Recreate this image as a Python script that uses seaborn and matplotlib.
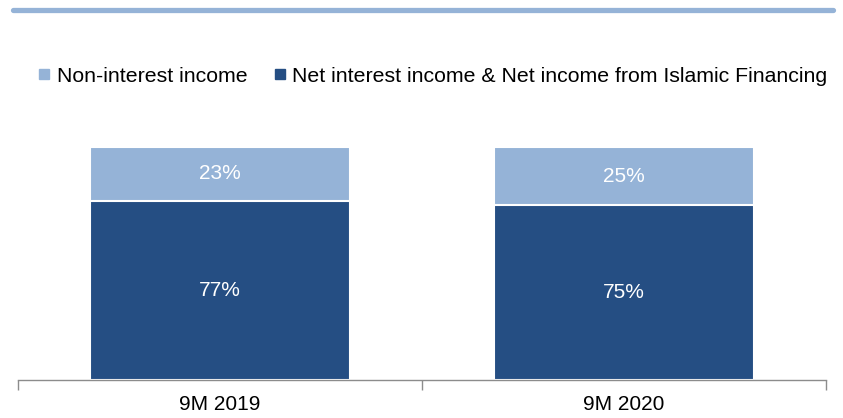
import matplotlib
matplotlib.use("Agg")
import matplotlib.pyplot as plt
from matplotlib.lines import Line2D
import seaborn as sns
import pandas as pd

periods = ["9M 2019", "9M 2020"]
non_interest = [23, 25]
net_interest = [77, 75]
series_names = ["Non-interest income",
                "Net interest income & Net income from Islamic Financing"]

LIGHT = "#95B3D7"
DARK = "#254E83"

sns.set_theme(style="white")
plt.rcParams["font.family"] = ["Liberation Sans", "DejaVu Sans"]
plt.rcParams["text.color"] = "black"

df = pd.DataFrame({"period": periods,
                   "non_interest": non_interest,
                   "net_interest": net_interest})
df["total"] = df["non_interest"] + df["net_interest"]

fig = plt.figure(figsize=(8.43, 4.18), dpi=100)
ax = fig.add_axes([18 / 843, 38 / 418, 808 / 843, 233 / 418])

# stacked bars: full height in the light colour, lower segment in dark on top
sns.barplot(data=df, x="period", y="total", color=LIGHT, width=0.644,
            saturation=1, edgecolor="white", linewidth=1.5, ax=ax)
sns.barplot(data=df, x="period", y="net_interest", color=DARK, width=0.644,
            saturation=1, edgecolor="white", linewidth=1.5, ax=ax)

top_bars = ax.containers[0]
low_bars = ax.containers[1]
for rect, v in zip(low_bars, net_interest):
    ax.text(rect.get_x() + rect.get_width() / 2, v / 2, f"{v}%",
            ha="center", va="center", color="white", fontsize=15)
for rect, lo, v in zip(top_bars, net_interest, non_interest):
    ax.text(rect.get_x() + rect.get_width() / 2, lo + v / 2, f"{v}%",
            ha="center", va="center", color="white", fontsize=15)

ax.set_xlim(-0.5, 1.5)
ax.set_ylim(0, 100)
ax.set_xlabel("")
ax.set_ylabel("")
ax.set_yticks([])
for s in ["top", "left", "right"]:
    ax.spines[s].set_visible(False)
ax.spines["bottom"].set_color("#8C8C8C")
ax.spines["bottom"].set_linewidth(1.0)

ax.set_xticks([0, 1])
ax.set_xticklabels(periods, fontsize=15, color="black")
ax.tick_params(axis="x", which="major", length=0, pad=11)
ax.set_xticks([-0.5, 0.5, 1.5], minor=True)
ax.tick_params(axis="x", which="minor", length=7, width=1.0,
               color="#8C8C8C", direction="out", bottom=True)

# header rule
fig.add_artist(Line2D([13 / 843, 833 / 843], [1 - 9.5 / 418, 1 - 9.5 / 418],
                      color=LIGHT, linewidth=3.8, transform=fig.transFigure))

handles = [Line2D([], [], marker="s", linestyle="none", markersize=7,
                  markerfacecolor=c, markeredgecolor=c)
           for c in (LIGHT, DARK)]
fig.legend(handles, series_names, loc="center left",
           bbox_to_anchor=(38 / 843, 1 - 76 / 418), ncol=2, frameon=False,
           fontsize=15.3, handlelength=0.6, handletextpad=0.3,
           columnspacing=1.2, borderaxespad=0, borderpad=0,
           labelcolor="black")

fig.savefig("out.png", dpi=100)
